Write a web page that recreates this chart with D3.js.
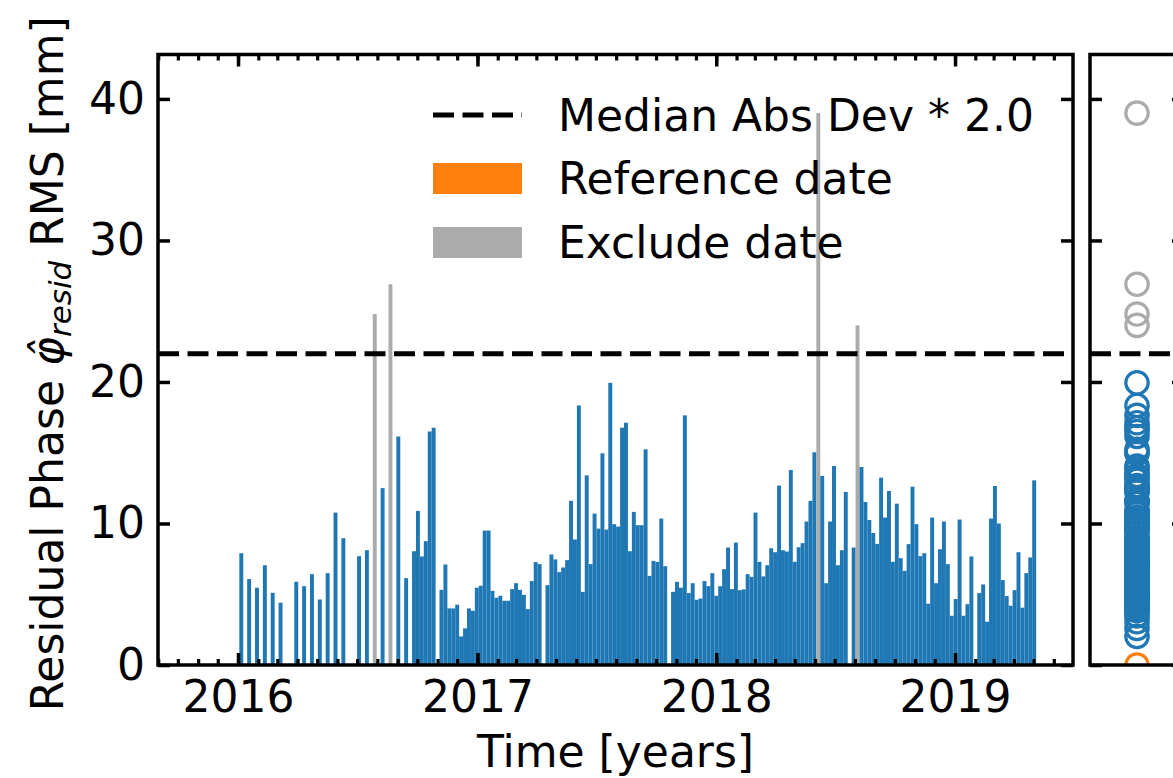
<!DOCTYPE html>
<html><head><meta charset="utf-8">
<script src="https://cdn.jsdelivr.net/npm/d3@7"></script>
<style>body{margin:0;background:#fff} svg{display:block}</style>
</head><body>
<svg id="c" width="1173" height="778"></svg>
<script>
// ---------------- data ----------------
const dates = [
"2016-01-06","2016-01-18","2016-01-30","2016-02-11","2016-02-23","2016-03-06","2016-03-30","2016-04-11",
"2016-04-23","2016-05-05","2016-05-17","2016-05-29","2016-06-10","2016-07-04","2016-07-16","2016-07-28",
"2016-08-09","2016-08-21","2016-09-02","2016-09-14","2016-09-26","2016-10-02","2016-10-08","2016-10-14",
"2016-10-20","2016-10-26","2016-11-07","2016-11-13","2016-11-19","2016-11-25","2016-12-01","2016-12-07",
"2016-12-13","2016-12-19","2016-12-25","2016-12-31","2017-01-06","2017-01-12","2017-01-18","2017-01-24",
"2017-01-30","2017-02-05","2017-02-11","2017-02-17","2017-02-23","2017-03-01","2017-03-07","2017-03-13",
"2017-03-19","2017-03-25","2017-03-31","2017-04-06","2017-04-12","2017-04-18","2017-04-24","2017-04-30",
"2017-05-06","2017-05-12","2017-05-18","2017-05-24","2017-05-30","2017-06-05","2017-06-11","2017-06-17",
"2017-06-23","2017-06-29","2017-07-05","2017-07-11","2017-07-17","2017-07-23","2017-07-29","2017-08-04",
"2017-08-10","2017-08-16","2017-08-22","2017-08-28","2017-09-03","2017-09-09","2017-09-15","2017-09-21",
"2017-09-27","2017-10-03","2017-10-09","2017-10-15","2017-10-27","2017-11-02","2017-11-08","2017-11-14",
"2017-11-20","2017-11-26","2017-12-02","2017-12-08","2017-12-14","2017-12-20","2017-12-26","2018-01-01",
"2018-01-07","2018-01-13","2018-01-19","2018-01-25","2018-01-31","2018-02-06","2018-02-12","2018-02-18",
"2018-02-24","2018-03-02","2018-03-08","2018-03-14","2018-03-20","2018-03-26","2018-04-01","2018-04-07",
"2018-04-13","2018-04-19","2018-04-25","2018-05-01","2018-05-07","2018-05-13","2018-05-19","2018-05-25",
"2018-05-31","2018-06-06","2018-06-12","2018-06-18","2018-06-24","2018-06-30","2018-07-06","2018-07-12",
"2018-07-18","2018-07-30","2018-08-05","2018-08-11","2018-08-17","2018-08-23","2018-08-29","2018-09-04",
"2018-09-10","2018-09-16","2018-09-22","2018-09-28","2018-10-04","2018-10-10","2018-10-16","2018-10-22",
"2018-10-28","2018-11-03","2018-11-09","2018-11-15","2018-11-21","2018-11-27","2018-12-03","2018-12-09",
"2018-12-15","2018-12-21","2018-12-27","2019-01-02","2019-01-08","2019-01-14","2019-01-20","2019-01-26",
"2019-02-07","2019-02-13","2019-02-19","2019-02-25","2019-03-03","2019-03-09","2019-03-15","2019-03-21",
"2019-03-27","2019-04-02","2019-04-08","2019-04-14","2019-04-20","2019-04-26","2019-05-02"
];
const rmsValues = [
7.9,6.07,5.46,7.05,5.1,4.4,5.88,5.57,
6.42,4.63,6.49,10.77,8.96,7.69,8.11,24.8,
12.5,26.9,16.15,6.14,8.04,10.89,7.67,8.75,
16.5,16.77,5.31,7.1,4.0,4.0,4.26,2.02,
2.59,4.0,3.83,5.46,5.6,9.5,9.5,5.24,
4.75,4.89,4.54,4.54,5.36,5.78,5.31,4.96,
3.95,5.93,7.27,7.13,0.0,5.64,7.81,7.46,
6.56,6.89,7.41,11.6,8.87,18.34,5.17,13.4,
7.13,10.7,9.64,14.96,9.57,19.94,9.95,9.78,
16.77,17.12,8.04,10.82,9.88,9.88,15.24,6.3,
7.36,7.29,10.35,6.98,5.17,5.88,5.46,17.64,
5.08,5.78,4.61,4.7,5.93,5.57,6.49,4.89,
5.57,6.77,8.3,5.36,8.65,5.29,5.34,6.42,
6.23,10.77,7.29,6.26,7.05,8.25,7.97,12.68,
8.11,8.02,13.78,7.29,8.32,8.61,10.14,11.6,
15.03,39.0,13.36,5.78,10.14,14.06,7.05,8.11,
12.23,8.3,24.0,13.99,11.52,10.25,9.33,8.56,
13.24,10.42,12.3,7.29,11.4,7.55,6.65,8.54,
12.6,9.95,7.69,7.9,4.33,10.42,5.78,8.18,
10.14,7.13,3.48,4.66,10.28,3.48,4.3,7.67,
5.08,5.69,3.06,10.35,12.65,10.0,6.0,4.87,
4.19,5.29,7.97,4.05,6.49,7.6,13.05
];
const excludeDates = ["2016-07-28","2016-08-21","2018-06-06","2018-08-05"];
const referenceDate = "2017-04-12";
const threshold = 22.0;
const yTicks = [0, 10, 20, 30, 40];
const xTickYears = ["2016-01-01", "2017-01-01", "2018-01-01", "2019-01-01"];
const legendLabels = ["Median Abs Dev * 2.0", "Reference date", "Exclude date"];
const xLabel = "Time [years]";

// ---------------- setup ----------------
const C_BLUE = "#1f77b4", C_ORANGE = "#ff7f0e", C_GRAY = "#ababab";
const FONT = "DejaVu Sans";
const FS = 44;
const svg = d3.select("#c");
const P = {left: 158, right: 1073, top: 54.5, bottom: 665};
const R = {left: 1090, right: 1184, top: 54.5, bottom: 665};

const parse = d3.utcParse("%Y-%m-%d");
const rows = dates.map((d, i) => ({date: parse(d), key: d, v: rmsValues[i]}));
const colorOf = r => r.key === referenceDate ? C_ORANGE : (excludeDates.includes(r.key) ? C_GRAY : C_BLUE);

const x = d3.scaleUtc()
  .domain([new Date("2015-08-31T16:00:00Z"), new Date("2019-06-30T08:00:00Z")])
  .range([P.left, P.right]);
const y = d3.scaleLinear().domain([0, 43.14]).range([P.bottom, P.top]);

// ---------------- bars ----------------
const barDays = 6;
svg.append("g").selectAll("rect").data(rows).join("rect")
  .attr("x", d => x(d.date) - (x(d3.utcDay.offset(d.date, barDays)) - x(d.date)) / 2)
  .attr("width", d => x(d3.utcDay.offset(d.date, barDays)) - x(d.date))
  .attr("y", d => y(d.v))
  .attr("height", d => y(0) - y(d.v))
  .attr("fill", colorOf);

// ---------------- right panel circles ----------------
svg.append("clipPath").attr("id", "rclip").append("rect")
  .attr("x", R.left).attr("y", R.top).attr("width", R.right - R.left).attr("height", R.bottom - R.top);
const xr = d3.scalePoint().domain(["all"]).range([R.left, R.right]).padding(0.5);
const order = r => (r.key === referenceDate ? 1 : excludeDates.includes(r.key) ? 2 : 0);
const circRows = rows.slice().sort((a, b) => order(a) - order(b));
svg.append("g").attr("clip-path", "url(#rclip)").selectAll("circle").data(circRows).join("circle")
  .attr("cx", xr("all")).attr("cy", d => y(d.v)).attr("r", 11.2)
  .attr("fill", "none").attr("stroke", colorOf).attr("stroke-width", 3.2);

// ---------------- threshold line ----------------
[[P.left, P.right], [R.left, R.right]].forEach(([a, b]) => {
  svg.append("line").attr("x1", a).attr("x2", b).attr("y1", y(threshold)).attr("y2", y(threshold))
    .attr("stroke", "#000").attr("stroke-width", 5).attr("stroke-dasharray", "21,8.5");
});

// ---------------- axes ----------------
function styleAxis(g, w) {
  g.select(".domain").remove();
  g.selectAll(".tick line").attr("stroke", "#000").attr("stroke-width", w);
  g.selectAll("text").attr("font-family", FONT).attr("font-size", FS).attr("fill", "#000");
}
const yearDates = xTickYears.map(s => new Date(s + "T00:00:00Z"));
// bottom minor
svg.append("g").attr("transform", `translate(0,${P.bottom})`)
  .call(d3.axisBottom(x).ticks(d3.utcMonth.every(1)).tickSize(-6).tickFormat(""))
  .call(g => styleAxis(g, 3.2));
// bottom major
svg.append("g").attr("transform", `translate(0,${P.bottom})`)
  .call(d3.axisBottom(x).tickValues(yearDates).tickSize(-12).tickPadding(16).tickFormat(d3.utcFormat("%Y")))
  .call(g => styleAxis(g, 3.5));
// top minor / major
svg.append("g").attr("transform", `translate(0,${P.top})`)
  .call(d3.axisTop(x).ticks(d3.utcMonth.every(1)).tickSize(-6).tickFormat(""))
  .call(g => styleAxis(g, 3.2));
svg.append("g").attr("transform", `translate(0,${P.top})`)
  .call(d3.axisTop(x).tickValues(yearDates).tickSize(-12).tickFormat(""))
  .call(g => styleAxis(g, 3.5));
// left
svg.append("g").attr("transform", `translate(${P.left},0)`)
  .call(d3.axisLeft(y).tickValues(yTicks).tickSize(-12).tickPadding(13))
  .call(g => styleAxis(g, 3.5));
svg.append("g").attr("transform", `translate(${P.right},0)`)
  .call(d3.axisRight(y).tickValues(yTicks).tickSize(-12).tickFormat(""))
  .call(g => styleAxis(g, 3.5));
// right panel ticks
svg.append("g").attr("transform", `translate(${R.left},0)`)
  .call(d3.axisLeft(y).tickValues(yTicks).tickSize(-12).tickFormat(""))
  .call(g => styleAxis(g, 3.5));
svg.append("g").attr("transform", `translate(${R.right},0)`)
  .call(d3.axisRight(y).tickValues(yTicks).tickSize(-12).tickFormat(""))
  .call(g => styleAxis(g, 3.5));

// frames
[P, R].forEach(b => {
  svg.append("rect").attr("x", b.left).attr("y", b.top).attr("width", b.right - b.left)
    .attr("height", b.bottom - b.top).attr("fill", "none").attr("stroke", "#000").attr("stroke-width", 3.5);
});

// ---------------- labels ----------------
svg.append("text").attr("x", (P.left + P.right) / 2).attr("y", 767).attr("text-anchor", "middle")
  .attr("font-family", FONT).attr("font-size", FS).text(xLabel);

const yl = svg.append("text").attr("transform", `translate(63,${(P.top + P.bottom) / 2 + 4}) rotate(-90)`)
  .attr("text-anchor", "middle").attr("font-family", FONT).attr("font-size", FS);
yl.append("tspan").text("Residual Phase ");
yl.append("tspan").attr("font-style", "italic").text("\u03C6\u0302");
yl.append("tspan").attr("font-style", "italic").attr("font-size", 31).attr("dy", 8).text("resid");
yl.append("tspan").attr("dy", -8).text(" RMS [mm]");

// ---------------- legend ----------------
const lg = svg.append("g");
const legendY = [115, 178.5, 242.5];
lg.append("line").attr("x1", 433).attr("x2", 522).attr("y1", legendY[0]).attr("y2", legendY[0])
  .attr("stroke", "#000").attr("stroke-width", 5).attr("stroke-dasharray", "21,8.5");
[C_ORANGE, C_GRAY].forEach((c, i) => {
  lg.append("rect").attr("x", 433).attr("y", legendY[i + 1] - 15.5).attr("width", 89).attr("height", 31).attr("fill", c);
});
legendLabels.forEach((t, i) => {
  lg.append("text").attr("x", 558).attr("y", legendY[i] + 15.5).attr("font-family", FONT)
    .attr("font-size", FS).text(t);
});
</script>
</body></html>
